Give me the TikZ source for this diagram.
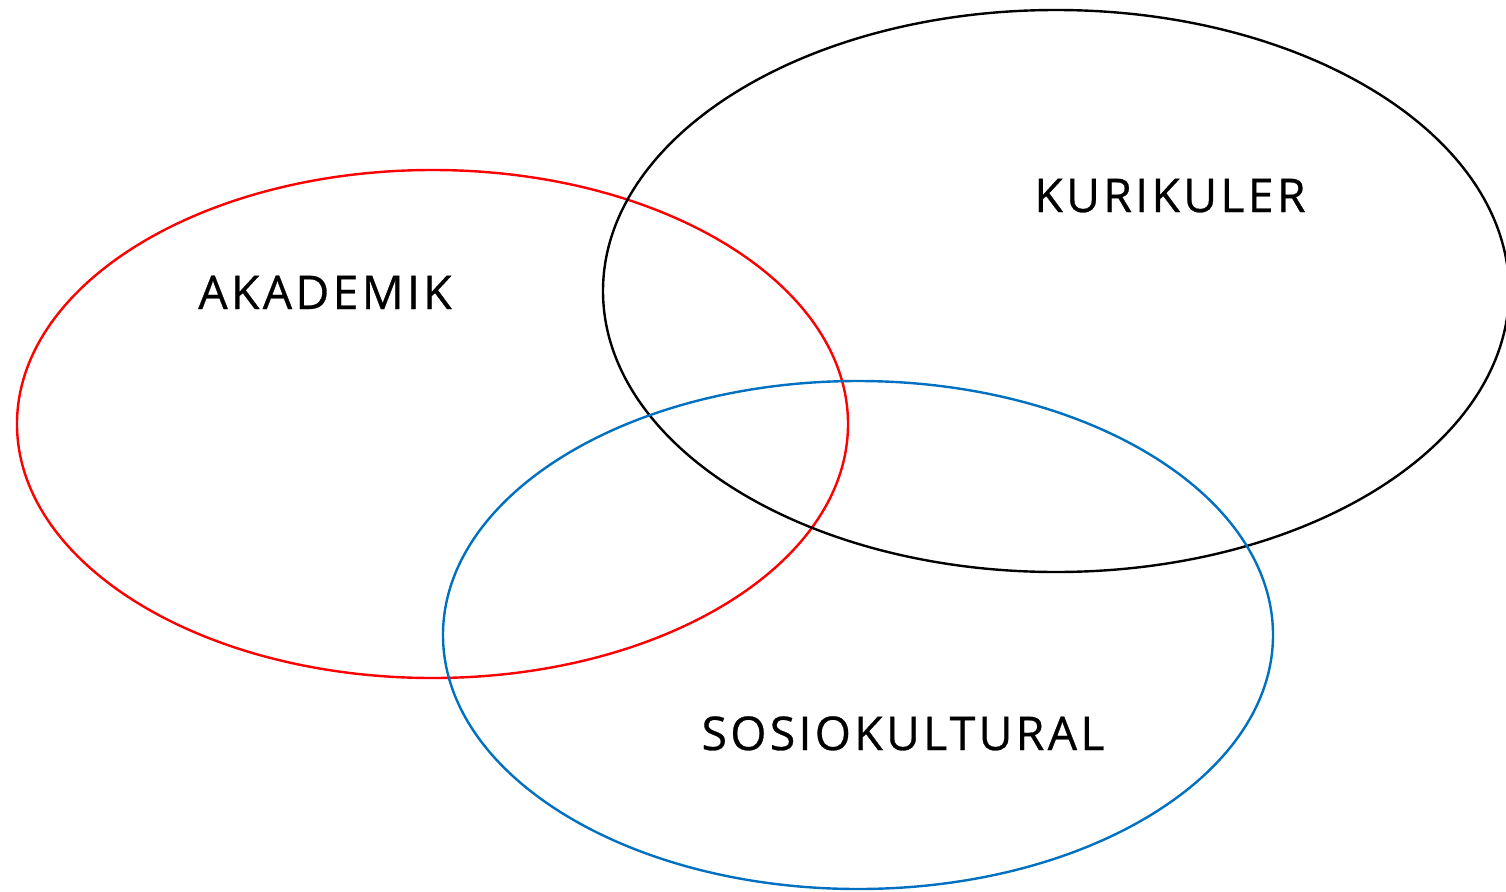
\documentclass[tikz,border=0pt]{standalone}
\usepackage{fontspec}
\setmainfont[LetterSpace=7,FakeBold=0.6]{Open Sans}
\begin{document}
\begin{tikzpicture}[x=1pt,y=-1pt,
  ell/.style={draw,line width=2.4pt},
  lbl/.style={font=\fontsize{46.5}{52}\selectfont,inner sep=0pt,anchor=base}]
\useasboundingbox[clip] (0,0) rectangle (1506,891);
\draw[ell,red] (432.5,424) ellipse [x radius=415.5,y radius=254];
\draw[ell,black] (1056,291) ellipse [x radius=453,y radius=281];
\draw[ell,color={rgb,255:red,0;green,112;blue,192}] (858,635) ellipse [x radius=415,y radius=254];
\node[lbl] (aka) at (325,309) {AKADEMIK};
\node[lbl] (kur) at (1170,212) {KURIKULER};
\node[lbl] (sos) at (903,750) {SOSIOKULTURAL};
\end{tikzpicture}
\end{document}
